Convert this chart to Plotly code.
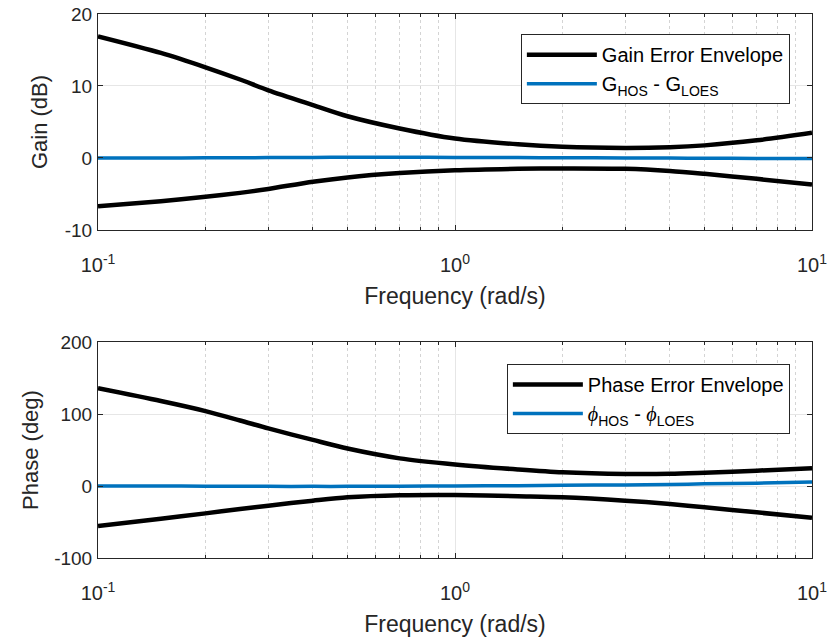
import plotly.graph_objects as go
from plotly.subplots import make_subplots

# ---- data ----
freq = [0.1, 0.15, 0.2, 0.25, 0.3, 0.4, 0.5, 0.7, 1, 1.5, 2, 3, 4, 5, 7, 10]
gain_env_upper = [16.9, 14.6, 12.6, 10.9, 9.4, 7.35, 5.8, 4.1, 2.7, 1.9, 1.55, 1.4, 1.5, 1.75, 2.45, 3.5]
gain_env_lower = [-6.7, -6.0, -5.4, -4.85, -4.3, -3.3, -2.7, -2.1, -1.7, -1.5, -1.45, -1.5, -1.8, -2.2, -2.9, -3.7]
gain_diff = [0, 0, 0.02, 0.04, 0.05, 0.08, 0.1, 0.1, 0.08, 0.05, 0.03, 0.0, -0.02, -0.04, -0.06, -0.08]

phase_env_upper = [135.7, 118, 104, 91, 80, 64, 52, 38.4, 30, 23, 19, 16.7, 16.9, 18.5, 21.3, 24.5]
phase_env_lower = [-55.6, -45.5, -38, -32, -27.3, -20.4, -15.7, -12.8, -12.5, -14.3, -15.7, -20.4, -25, -29.6, -36.6, -44]
phase_diff = [0, 0, -0.3, -0.4, -0.5, -0.5, -0.5, -0.3, 0, 0.5, 1, 1.5, 2.2, 3, 4, 5.5]

x_major = [0.1, 1, 10]
x_major_text = ["10<sup>-1</sup>", "10<sup>0</sup>", "10<sup>1</sup>"]
x_minor = [0.2, 0.3, 0.4, 0.5, 0.6, 0.7, 0.8, 0.9, 2, 3, 4, 5, 6, 7, 8, 9]
gain_ticks = [-10, 0, 10, 20]
gain_tick_text = ["-10", "0", "10", "20"]
phase_ticks = [-100, 0, 100, 200]
phase_tick_text = ["-100", "0", "100", "200"]

BLACK = "#000000"
BLUE = "#0072BD"
AX = "#262626"
FONT = "Liberation Sans, Arial, sans-serif"

fig = make_subplots(rows=2, cols=1, vertical_spacing=0.0)

env_line = dict(color=BLACK, width=4.5, shape="spline", smoothing=0.8)
diff_line = dict(color=BLUE, width=3.5, shape="spline", smoothing=0.8)

# gain
fig.add_trace(go.Scatter(x=freq, y=gain_env_upper, mode="lines", line=env_line,
                         name="Gain Error Envelope", legend="legend"), row=1, col=1)
fig.add_trace(go.Scatter(x=freq, y=gain_env_lower, mode="lines", line=env_line,
                         showlegend=False, legend="legend"), row=1, col=1)
fig.add_trace(go.Scatter(x=freq, y=gain_diff, mode="lines", line=diff_line,
                         name="G<sub>HOS</sub> - G<sub>LOES</sub>", legend="legend"), row=1, col=1)
# phase
phi = "<span style=\"font-family:'Liberation Serif';font-style:italic\">ϕ</span>"
fig.add_trace(go.Scatter(x=freq, y=phase_env_upper, mode="lines", line=env_line,
                         name="Phase Error Envelope", legend="legend2"), row=2, col=1)
fig.add_trace(go.Scatter(x=freq, y=phase_env_lower, mode="lines", line=env_line,
                         showlegend=False, legend="legend2"), row=2, col=1)
fig.add_trace(go.Scatter(x=freq, y=phase_diff, mode="lines", line=diff_line,
                         name=phi + "<sub>HOS</sub> - " + phi + "<sub>LOES</sub>", legend="legend2"), row=2, col=1)

xcommon = dict(
    type="log", range=[-1, 1], tickmode="array", tickvals=x_major, ticktext=x_major_text,
    ticks="inside", ticklen=5, tickcolor=AX, showline=True, linecolor=AX, linewidth=1, mirror="allticks",
    showgrid=True, gridcolor="#e6e6e6", gridwidth=1, zeroline=False, automargin=False,
    tickfont=dict(size=20, color=AX, family=FONT), ticklabelstandoff=17,
    minor=dict(tickmode="array", tickvals=x_minor, ticks="inside", ticklen=3, tickcolor=AX,
               showgrid=True, gridcolor="#d4d4d4", griddash="dot", gridwidth=1),
    title=dict(text="Frequency (rad/s)", font=dict(size=23, color=AX, family=FONT), standoff=12),
)
ycommon = dict(
    tickmode="array", ticks="inside", ticklen=5, tickcolor=AX, showline=True, linecolor=AX, linewidth=1,
    mirror="allticks", showgrid=True, gridcolor="#e6e6e6", gridwidth=1, zeroline=False, automargin=False,
    tickfont=dict(size=19, color=AX, family=FONT), ticklabelstandoff=1,
)

fig.update_layout(
    width=829, height=640,
    margin=dict(l=98, r=17, t=14, b=82),
    paper_bgcolor="white", plot_bgcolor="white",
    font=dict(family=FONT, color=AX),
    xaxis=dict(**xcommon, domain=[0, 1]),
    xaxis2=dict(**xcommon, domain=[0, 1]),
    yaxis=dict(**ycommon, domain=[0.603, 1.0], range=[-10, 20], tickvals=gain_ticks, ticktext=gain_tick_text,
               title=dict(text="Gain (dB)", font=dict(size=22, color=AX, family=FONT), standoff=11)),
    yaxis2=dict(**ycommon, domain=[0.0, 0.397], range=[-100, 200], tickvals=phase_ticks, ticktext=phase_tick_text,
                title=dict(text="Phase (deg)", font=dict(size=22, color=AX, family=FONT), standoff=9)),
    legend=dict(x=0.969, y=0.963, xanchor="right", yanchor="top", bgcolor="white",
                bordercolor=AX, borderwidth=1, font=dict(size=20, color="#000000", family=FONT),
                tracegroupgap=0, itemwidth=70),
    legend2=dict(x=0.969, y=0.3566, xanchor="right", yanchor="top", bgcolor="white",
                 bordercolor=AX, borderwidth=1, font=dict(size=20, color="#000000", family=FONT),
                 tracegroupgap=0, itemwidth=70),
)

fig.write_html("out.html")
